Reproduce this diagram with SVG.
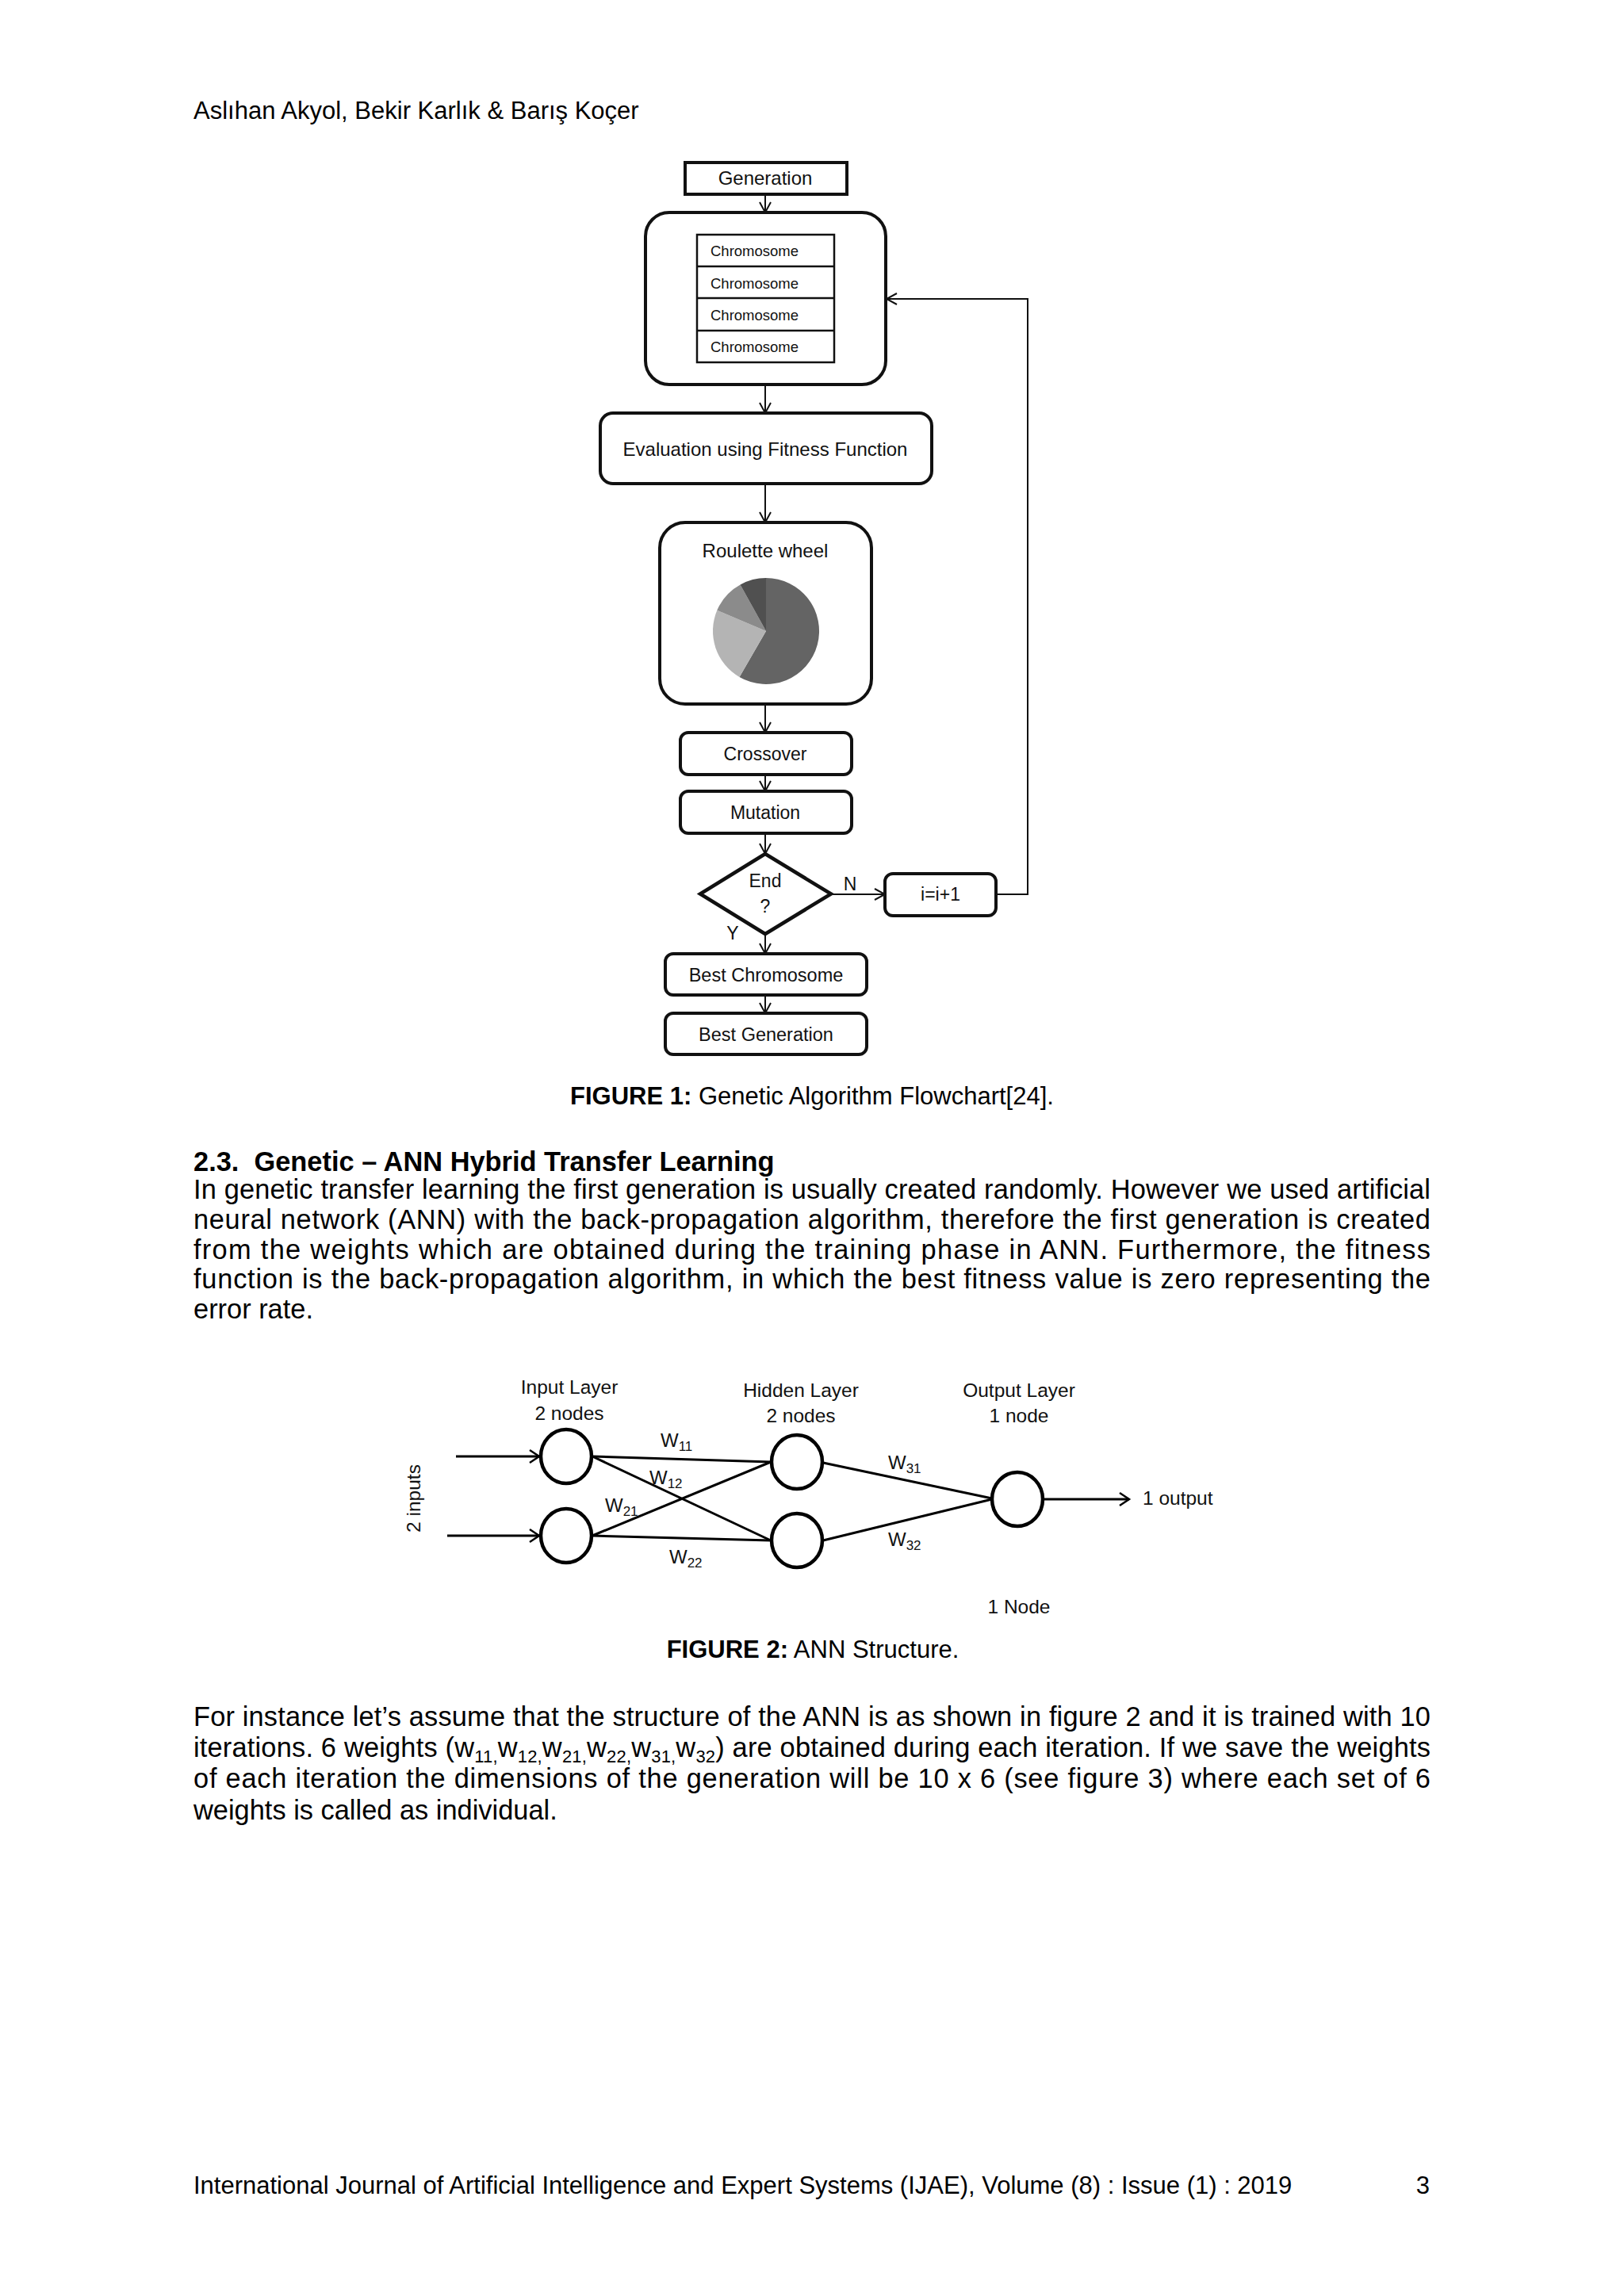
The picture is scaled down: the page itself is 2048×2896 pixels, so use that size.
<svg xmlns="http://www.w3.org/2000/svg" width="2048" height="2896" viewBox="0 0 2048 2896">
<style>
text{font-family:"Liberation Sans",Arial,sans-serif;fill:#000}
.body{font-size:34.4px}
.bsub{font-size:22px}
.hdr{font-size:31px}
.cap{font-size:31px}
.b{font-weight:bold}
.fc{font-size:24px;text-anchor:middle;fill:#111}
.chr{font-size:18.5px;fill:#111}
.box{fill:#fff;stroke:#111;stroke-width:4}
.thin{fill:#fff;stroke:#111;stroke-width:2.5}
.conn{fill:none;stroke:#111;stroke-width:2}
.edge{fill:none;stroke:#000;stroke-width:3}
.neuron{fill:#fff;stroke:#000;stroke-width:4.5}
.ann{font-size:24.5px;text-anchor:middle;fill:#111}
.w{font-size:24px;fill:#111}
.sub{font-size:17px}
</style>
<defs>
<marker id="arr" markerUnits="userSpaceOnUse" viewBox="-16 -10 20 20" markerWidth="20" markerHeight="20" refX="0" refY="0" orient="auto"><path d="M-13,-7 L0,0 L-13,7" fill="none" stroke="#111" stroke-width="2"/></marker>
<marker id="arr2" markerUnits="userSpaceOnUse" viewBox="-16 -10 20 20" markerWidth="20" markerHeight="20" refX="0" refY="0" orient="auto"><path d="M-12,-8 L0,0 L-12,8" fill="none" stroke="#000" stroke-width="2.5"/></marker>
</defs>
<rect x="0" y="0" width="2048" height="2896" fill="#fff"/>

<g id="page-header"><text class="hdr" x="244" y="150">Aslıhan Akyol, Bekir Karlık &amp; Barış Koçer</text></g>

<!-- Figure 1: flowchart -->
<g id="connectors-fig1">
<line class="conn" x1="965" y1="245" x2="965" y2="268" marker-end="url(#arr)"/>
<line class="conn" x1="965" y1="485" x2="965" y2="521" marker-end="url(#arr)"/>
<line class="conn" x1="965" y1="610" x2="965" y2="659" marker-end="url(#arr)"/>
<line class="conn" x1="965" y1="888" x2="965" y2="924" marker-end="url(#arr)"/>
<line class="conn" x1="965" y1="977" x2="965" y2="998" marker-end="url(#arr)"/>
<line class="conn" x1="965" y1="1051" x2="965" y2="1077" marker-end="url(#arr)"/>
<line class="conn" x1="965" y1="1178" x2="965" y2="1203" marker-end="url(#arr)"/>
<line class="conn" x1="965" y1="1255" x2="965" y2="1278" marker-end="url(#arr)"/>
<line class="conn" x1="1049" y1="1128" x2="1116" y2="1128" marker-end="url(#arr)"/>
<polyline class="conn" points="1256,1128 1296,1128 1296,377 1118,377" marker-end="url(#arr)"/>
<text class="fc" x="1072" y="1123" style="font-size:23px">N</text>
<text class="fc" x="924" y="1185" style="font-size:23px">Y</text>
</g>

<g id="node-generation">
<rect class="box" x="864" y="205" width="204" height="40"/>
<text class="fc" x="965" y="233">Generation</text>
</g>

<g id="node-population">
<rect class="box" x="814" y="268" width="303" height="217" rx="30"/>
<rect class="thin" x="879" y="296" width="173" height="161"/>
<line class="thin" x1="879" y1="336" x2="1052" y2="336"/>
<line class="thin" x1="879" y1="376" x2="1052" y2="376"/>
<line class="thin" x1="879" y1="417" x2="1052" y2="417"/>
<text class="chr" x="896" y="323">Chromosome</text>
<text class="chr" x="896" y="364">Chromosome</text>
<text class="chr" x="896" y="404">Chromosome</text>
<text class="chr" x="896" y="444">Chromosome</text>
</g>

<g id="node-evaluation">
<rect class="box" x="757" y="521" width="418" height="89" rx="16"/>
<text class="fc" x="965" y="575">Evaluation using Fitness Function</text>
</g>

<g id="node-roulette">
<rect class="box" x="832" y="659" width="267" height="229" rx="32"/>
<text class="fc" x="965" y="703">Roulette wheel</text>
<path d="M966,796 L966,729 A67,67 0 1 1 932.5,854 Z" fill="#646464"/>
<path d="M966,796 L932.5,854 A67,67 0 0 1 904.3,769.8 Z" fill="#b4b4b4"/>
<path d="M966,796 L904.3,769.8 A67,67 0 0 1 933.5,737.4 Z" fill="#8b8b8b"/>
<path d="M966,796 L933.5,737.4 A67,67 0 0 1 966,729 Z" fill="#505050"/>
</g>

<g id="node-crossover">
<rect class="box" x="858" y="924" width="216" height="53" rx="10"/>
<text class="fc" x="965" y="959" style="font-size:23px">Crossover</text>
</g>

<g id="node-mutation">
<rect class="box" x="858" y="998" width="216" height="53" rx="10"/>
<text class="fc" x="965" y="1033" style="font-size:23px">Mutation</text>
</g>

<g id="node-end">
<polygon points="965,1077 1048,1127.5 965,1178 883,1127.5" fill="#fff" stroke="#111" stroke-width="4.5" stroke-linejoin="miter"/>
<text class="fc" x="965" y="1119" style="font-size:23px">End</text>
<text class="fc" x="965" y="1151" style="font-size:23px">?</text>
</g>

<g id="node-increment">
<rect class="box" x="1116" y="1102" width="140" height="53" rx="10"/>
<text class="fc" x="1186" y="1136" style="font-size:23px">i=i+1</text>
</g>

<g id="node-best-chromosome">
<rect class="box" x="839" y="1203" width="254" height="52" rx="10"/>
<text class="fc" x="966" y="1238" style="font-size:23.5px">Best Chromosome</text>
</g>

<g id="node-best-generation">
<rect class="box" x="839" y="1278" width="254" height="52" rx="10"/>
<text class="fc" x="966" y="1313" style="font-size:23.5px">Best Generation</text>
</g>

<g id="caption-1"><text class="cap" x="1024" y="1393" text-anchor="middle"><tspan class="b">FIGURE 1:</tspan> Genetic Algorithm Flowchart[24].</text></g>

<g id="section-text">
<text class="body b" x="244" y="1477" style="white-space:pre">2.3.  Genetic – ANN Hybrid Transfer Learning</text>
<text class="body" x="244" y="1512" textLength="1560" lengthAdjust="spacing">In genetic transfer learning the first generation is usually created randomly. However we used artificial</text>
<text class="body" x="244" y="1550" textLength="1560" lengthAdjust="spacing">neural network (ANN) with the back-propagation algorithm, therefore the first generation is created</text>
<text class="body" x="244" y="1588" textLength="1560" lengthAdjust="spacing">from the weights which are obtained during the training phase in ANN. Furthermore, the fitness</text>
<text class="body" x="244" y="1625" textLength="1560" lengthAdjust="spacing">function is the back-propagation algorithm, in which the best fitness value is zero representing the</text>
<text class="body" x="244" y="1663">error rate.</text>
</g>

<!-- Figure 2: ANN -->
<g id="connectors-fig2">
<line class="edge" x1="575" y1="1837" x2="680" y2="1837" marker-end="url(#arr2)"/>
<line class="edge" x1="564" y1="1937" x2="680" y2="1937" marker-end="url(#arr2)"/>
<line class="edge" x1="747" y1="1837" x2="972" y2="1844"/>
<line class="edge" x1="747" y1="1837" x2="972" y2="1943"/>
<line class="edge" x1="747" y1="1937" x2="972" y2="1844"/>
<line class="edge" x1="747" y1="1937" x2="972" y2="1943"/>
<line class="edge" x1="1038" y1="1845" x2="1251" y2="1890"/>
<line class="edge" x1="1038" y1="1943" x2="1251" y2="1891"/>
<line class="edge" x1="1316" y1="1891" x2="1424" y2="1891" marker-end="url(#arr2)"/>
<text class="w" x="833" y="1825">W<tspan class="sub" dy="5">11</tspan></text>
<text class="w" x="819" y="1872">W<tspan class="sub" dy="5">12</tspan></text>
<text class="w" x="763" y="1907">W<tspan class="sub" dy="5">21</tspan></text>
<text class="w" x="844" y="1972">W<tspan class="sub" dy="5">22</tspan></text>
<text class="w" x="1120" y="1853">W<tspan class="sub" dy="5">31</tspan></text>
<text class="w" x="1120" y="1950">W<tspan class="sub" dy="5">32</tspan></text>
</g>

<g id="node-input-1"><ellipse class="neuron" cx="714" cy="1837" rx="32" ry="34"/></g>
<g id="node-input-2"><ellipse class="neuron" cx="714" cy="1937" rx="32" ry="34"/></g>
<g id="node-hidden-1"><ellipse class="neuron" cx="1005" cy="1844" rx="32" ry="34"/></g>
<g id="node-hidden-2"><ellipse class="neuron" cx="1005" cy="1943" rx="32" ry="34"/></g>
<g id="node-output"><ellipse class="neuron" cx="1283" cy="1891" rx="32" ry="34"/></g>

<g id="ann-labels">
<text class="ann" x="718" y="1758">Input Layer</text>
<text class="ann" x="718" y="1791">2 nodes</text>
<text class="ann" x="1010" y="1762">Hidden Layer</text>
<text class="ann" x="1010" y="1794">2 nodes</text>
<text class="ann" x="1285" y="1762">Output Layer</text>
<text class="ann" x="1285" y="1794">1 node</text>
<text class="ann" x="1285" y="2035">1 Node</text>
<text class="ann" x="1441" y="1898" style="text-anchor:start">1 output</text>
<text class="ann" transform="translate(530,1890) rotate(-90)" x="0" y="0">2 inputs</text>
</g>

<g id="caption-2"><text class="cap" x="1025" y="2091" text-anchor="middle"><tspan class="b">FIGURE 2:</tspan> ANN Structure.</text></g>

<g id="paragraph-2">
<text class="body" x="244" y="2177" textLength="1560" lengthAdjust="spacing">For instance let’s assume that the structure of the ANN is as shown in figure 2 and it is trained with 10</text>
<text class="body" x="244" y="2216" textLength="1560" lengthAdjust="spacing">iterations. 6 weights (w<tspan class="bsub" dy="7">11,</tspan><tspan dy="-7">w</tspan><tspan class="bsub" dy="7">12,</tspan><tspan dy="-7">w</tspan><tspan class="bsub" dy="7">21,</tspan><tspan dy="-7">w</tspan><tspan class="bsub" dy="7">22,</tspan><tspan dy="-7">w</tspan><tspan class="bsub" dy="7">31,</tspan><tspan dy="-7">w</tspan><tspan class="bsub" dy="7">32</tspan><tspan dy="-7">) are obtained during each iteration. If we save the weights</tspan></text>
<text class="body" x="244" y="2255" textLength="1560" lengthAdjust="spacing">of each iteration the dimensions of the generation will be 10 x 6 (see figure 3) where each set of 6</text>
<text class="body" x="244" y="2295">weights is called as individual.</text>
</g>

<g id="page-footer">
<text class="cap" x="244" y="2767">International Journal of Artificial Intelligence and Expert Systems (IJAE), Volume (8) : Issue (1) : 2019</text>
<text class="cap" x="1803" y="2767" text-anchor="end">3</text>
</g>
</svg>
